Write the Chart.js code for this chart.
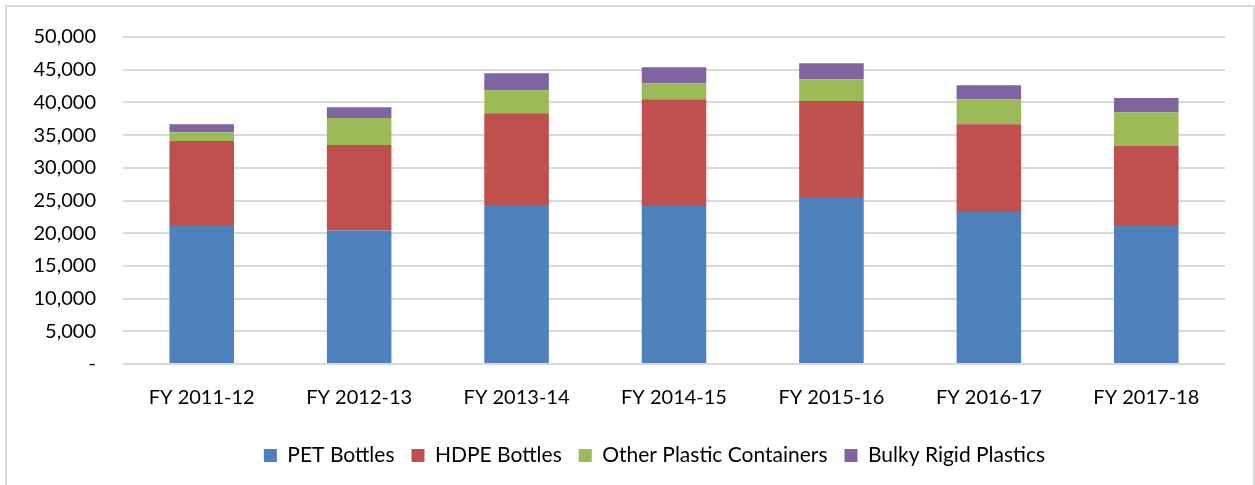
<!DOCTYPE html>
<html lang="en">
<head>
    <meta charset="UTF-8">
    <title>Plastics by type</title>
    <script src="https://cdn.jsdelivr.net/npm/chart.js"></script>
    <style>
        body { margin: 0; background: #fff; overflow: hidden; }
        .moldura {
            position: absolute; left: 5px; top: 5px;
            width: 1250px; height: 520px;
            border: 2px solid #d9d9d9; box-sizing: border-box;
        }
        #grafico { position: absolute; left: 0; top: 0; }
    </style>
</head>
<body>
    <div class="moldura"></div>
    <canvas id="grafico" width="1255" height="485"></canvas>

<script>
    // dados
    const anos = ["FY 2011-12", "FY 2012-13", "FY 2013-14", "FY 2014-15", "FY 2015-16", "FY 2016-17", "FY 2017-18"];
    const pet = [21100, 20400, 24160, 24160, 25380, 23250, 21100];
    const hdpe = [12980, 13070, 14200, 16330, 14820, 13420, 12220];
    const outros = [1370, 4130, 3510, 2440, 3340, 3820, 5180];
    const volumosos = [1220, 1670, 2590, 2440, 2450, 2140, 2160];
    const ticksY = [0, 5000, 10000, 15000, 20000, 25000, 30000, 35000, 40000, 45000, 50000];

    const fonte = "Lato";

    function serie(nome, valores, cor) {
        return {
            label: nome,
            data: valores,
            backgroundColor: cor,
            borderWidth: 0,
            barPercentage: 0.41,
            categoryPercentage: 1
        };
    }

    // empurra a legenda um pouco para a direita, como no original
    const moverLegenda = {
        id: "moverLegenda",
        afterLayout: function (chart) {
            chart.legend.left += 42;
            chart.legend.right += 42;
        }
    };

    const config = {
        type: "bar",
        data: {
            labels: anos,
            datasets: [
                serie("PET Bottles", pet, "#4F81BD"),
                serie("HDPE Bottles", hdpe, "#C0504D"),
                serie("Other Plastic Containers", outros, "#9BBB59"),
                serie("Bulky Rigid Plastics", volumosos, "#8064A2")
            ]
        },
        options: {
            responsive: false,
            animation: false,
            layout: { padding: { left: 0, right: 30, top: 22, bottom: 9 } },
            scales: {
                x: {
                    stacked: true,
                    grid: { display: false, drawTicks: false },
                    border: { display: false },
                    ticks: { color: "#000", font: { family: fonte, size: 20 }, padding: 22, maxRotation: 0 },
                    afterFit: function (escala) { escala.height = 64; }
                },
                y: {
                    stacked: true,
                    min: 0,
                    max: 50000,
                    afterBuildTicks: function (escala) {
                        escala.ticks = ticksY.map(v => ({ value: v }));
                    },
                    grid: { color: "#d9d9d9", lineWidth: 2, drawTicks: false },
                    border: { display: false },
                    ticks: {
                        color: "#000",
                        font: { family: fonte, size: 20, lineHeight: 1 },
                        padding: 27,
                        callback: function (v) { return v === 0 ? "-" : v.toLocaleString("en-US"); }
                    },
                    afterFit: function (escala) { escala.width = 123; }
                }
            },
            plugins: {
                legend: {
                    position: "bottom",
                    labels: {
                        color: "#000",
                        font: { family: fonte, size: 21 },
                        boxWidth: 13,
                        boxHeight: 13,
                        padding: 17
                    }
                },
                tooltip: { enabled: false }
            }
        },
        plugins: [moverLegenda]
    };

    var meuGrafico = new Chart(document.getElementById("grafico"), config);
</script>
</body>
</html>
